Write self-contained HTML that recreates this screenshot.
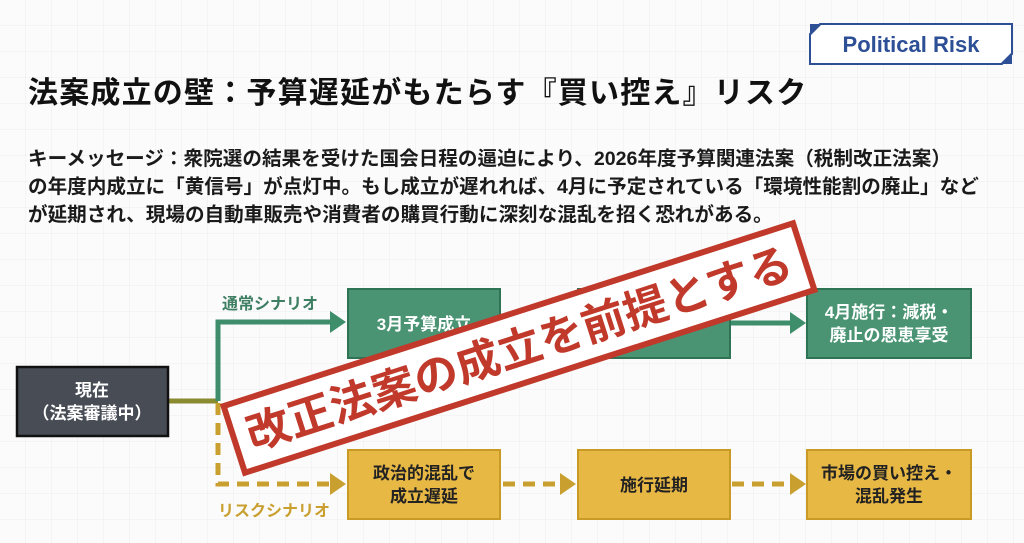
<!DOCTYPE html>
<html><head><meta charset="utf-8"><style>
html,body{margin:0;padding:0;width:1024px;height:543px;overflow:hidden;background:#fbfbfb}
svg{display:block}
text{font-family:"Liberation Sans","Noto Sans CJK JP",sans-serif;font-weight:bold}
</style></head><body>
<svg width="1024" height="543" viewBox="0 0 1024 543" xmlns="http://www.w3.org/2000/svg">
<defs>
<pattern id="g" width="26" height="26" patternUnits="userSpaceOnUse">
<path d="M26 0V26M0 26H26" stroke="#eceef0" stroke-width="1" fill="none"/>
</pattern>
</defs>
<rect width="1024" height="543" fill="#fbfbfb"/>
<rect width="1024" height="543" fill="url(#g)"/>

<!-- badge -->
<path d="M820 24 L1012 24 L1012 54 L1002 64 L810 64 L810 34 Z" fill="#fff" stroke="#2c4f96" stroke-width="2"/>
<path d="M810 24 L822 24 L810 36 Z" fill="#2c4f96"/>
<path d="M1012 64 L1000 64 L1012 52 Z" fill="#2c4f96"/>
<text x="911" y="52" font-size="22" fill="#2c4f96" text-anchor="middle">Political Risk</text>

<!-- title -->
<text x="28" y="103" font-size="30" fill="#111" letter-spacing="1.2">法案成立の壁：予算遅延がもたらす『買い控え』リスク</text>

<!-- key message -->
<g font-size="19.6" fill="#1a1a1a">
<text x="28" y="165">キーメッセージ：衆院選の結果を受けた国会日程の逼迫により、2026年度予算関連法案（税制改正法案）</text>
<text x="28" y="193">の年度内成立に「黄信号」が点灯中。もし成立が遅れれば、4月に予定されている「環境性能割の廃止」など</text>
<text x="28" y="221">が延期され、現場の自動車販売や消費者の購買行動に深刻な混乱を招く恐れがある。</text>
</g>

<!-- connectors -->
<path d="M169 401 H218" stroke="#8a8a30" stroke-width="5" fill="none"/>
<path d="M218 401 V322 H332" stroke="#3e8e6c" stroke-width="5" fill="none"/>
<path d="M330 311 L346 322 L330 333 Z" fill="#3e8e6c"/>
<path d="M730 323 H792" stroke="#3e8e6c" stroke-width="5" fill="none"/>
<path d="M790 312 L806 323 L790 334 Z" fill="#3e8e6c"/>

<path d="M218 403 V484 H332" stroke="#c9a030" stroke-width="5" fill="none" stroke-dasharray="12 8"/>
<path d="M330 473 L346 484 L330 495 Z" fill="#c9a030"/>
<path d="M503 484 H562" stroke="#c9a030" stroke-width="5" fill="none" stroke-dasharray="12 8"/>
<path d="M560 473 L576 484 L560 495 Z" fill="#c9a030"/>
<path d="M732 484 H792" stroke="#c9a030" stroke-width="5" fill="none" stroke-dasharray="12 8"/>
<path d="M790 473 L806 484 L790 495 Z" fill="#c9a030"/>

<text x="222" y="309" font-size="16" fill="#3e7e62">通常シナリオ</text>
<text x="218" y="516" font-size="16" fill="#c9a030">リスクシナリオ</text>

<!-- current box -->
<rect x="17" y="367" width="151" height="69" fill="#474c55" stroke="#111" stroke-width="2.5"/>
<text x="92" y="396" font-size="17" fill="#fff" text-anchor="middle">現在</text>
<text x="92" y="419" font-size="17" fill="#fff" text-anchor="middle">（法案審議中）</text>

<!-- green boxes -->
<rect x="348" y="289" width="152" height="69" fill="#4a9474" stroke="#2f7355" stroke-width="2"/>
<text x="424" y="330" font-size="17" fill="#fff" text-anchor="middle">3月予算成立</text>
<rect x="578" y="289" width="152" height="69" fill="#4a9474" stroke="#2f7355" stroke-width="2"/>
<text x="654" y="330" font-size="17" fill="#fff" text-anchor="middle">法案成立</text>
<rect x="807" y="289" width="164" height="69" fill="#4a9474" stroke="#2f7355" stroke-width="2"/>
<text x="889" y="318" font-size="17" fill="#fff" text-anchor="middle">4月施行：減税・</text>
<text x="889" y="341" font-size="17" fill="#fff" text-anchor="middle">廃止の恩恵享受</text>

<!-- gold boxes -->
<rect x="348" y="450" width="152" height="69" fill="#e8b845" stroke="#c99a25" stroke-width="2"/>
<text x="424" y="479" font-size="17" fill="#222" text-anchor="middle">政治的混乱で</text>
<text x="424" y="502" font-size="17" fill="#222" text-anchor="middle">成立遅延</text>
<rect x="578" y="450" width="152" height="69" fill="#e8b845" stroke="#c99a25" stroke-width="2"/>
<text x="654" y="491" font-size="17" fill="#222" text-anchor="middle">施行延期</text>
<rect x="807" y="450" width="164" height="69" fill="#e8b845" stroke="#c99a25" stroke-width="2"/>
<text x="889" y="479" font-size="17" fill="#222" text-anchor="middle">市場の買い控え・</text>
<text x="889" y="502" font-size="17" fill="#222" text-anchor="middle">混乱発生</text>

<!-- stamp -->
<g transform="translate(519 348) rotate(-17.8)">
<rect x="-299" y="-35" width="598" height="70" fill="#fff" stroke="#c0392b" stroke-width="6"/>
<text x="0" y="16" font-size="44" fill="#c0392b" text-anchor="middle">改正法案の成立を前提とする</text>
</g>
</svg>
</body></html>
